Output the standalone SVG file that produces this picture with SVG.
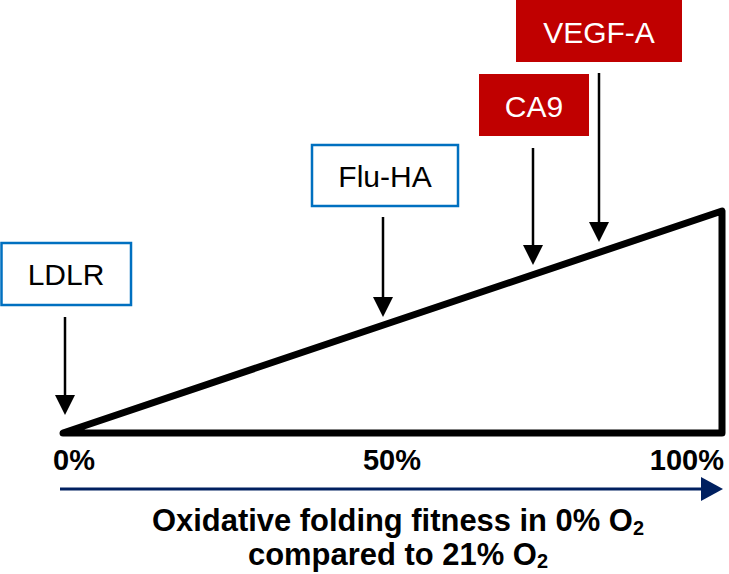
<svg xmlns="http://www.w3.org/2000/svg" width="729" height="574" viewBox="0 0 729 574">
<style>
.box-blue{fill:#ffffff;stroke:#0070C0;stroke-width:2.5}
.box-red{fill:#C00000;stroke:none}
.lbl{font-family:"Liberation Sans",Arial,sans-serif;font-size:30px;text-anchor:middle}
.lbl-d{fill:#000000}
.lbl-w{fill:#ffffff}
.pct{font-family:"Liberation Sans",Arial,sans-serif;font-size:29px;font-weight:bold;fill:#000000}
.title{font-family:"Liberation Sans",Arial,sans-serif;font-size:31px;font-weight:bold;fill:#000000}
.arr{stroke:#000000;stroke-width:2.5;fill:none;marker-end:url(#ah)}
</style>
<defs>
<marker id="ah" markerUnits="userSpaceOnUse" markerWidth="20" markerHeight="20" refX="10" refY="10" orient="auto" viewBox="0 0 20 20">
<path d="M0,0 L20,10 L0,20 z" fill="#000000"/>
</marker>
</defs>
<g id="triangle">
<polygon points="63,433 722,211 722,433" fill="none" stroke="#000000" stroke-width="7" stroke-linejoin="round"/>
</g>
<g id="node-ldlr">
<rect class="box-blue" x="1.5" y="243" width="129.5" height="62"/>
<text class="lbl lbl-d" x="66" y="285">LDLR</text>
</g>
<g id="node-fluha">
<rect class="box-blue" x="312" y="145" width="146" height="61"/>
<text class="lbl lbl-d" x="385" y="187">Flu-HA</text>
</g>
<g id="node-ca9">
<rect class="box-red" x="479" y="74" width="110" height="62"/>
<text class="lbl lbl-w" x="534" y="117">CA9</text>
</g>
<g id="node-vegfa">
<rect class="box-red" x="516" y="-1" width="166" height="63"/>
<text class="lbl lbl-w" x="599" y="43">VEGF-A</text>
</g>
<g id="connectors">
<line class="arr" x1="65" y1="317" x2="65" y2="405"/>
<line class="arr" x1="383" y1="217" x2="383" y2="307"/>
<line class="arr" x1="533" y1="148" x2="533" y2="255"/>
<line class="arr" x1="599" y1="73" x2="599" y2="232"/>
</g>
<g id="axis">
<line x1="60" y1="489" x2="704" y2="489" stroke="#002060" stroke-width="3"/>
<polygon points="701,477 723,489 701,501" fill="#002060"/>
<text class="pct" x="53" y="470">0%</text>
<text class="pct" x="392" y="470" text-anchor="middle">50%</text>
<text class="pct" x="724" y="470" text-anchor="end">100%</text>
</g>
<g id="title">
<text class="title" x="152" y="531" textLength="492" lengthAdjust="spacingAndGlyphs">Oxidative folding fitness in 0% O<tspan font-size="20" dy="4">2</tspan></text>
<text class="title" x="248" y="565" textLength="300" lengthAdjust="spacingAndGlyphs">compared to 21% O<tspan font-size="20" dy="3">2</tspan></text>
</g>
</svg>
